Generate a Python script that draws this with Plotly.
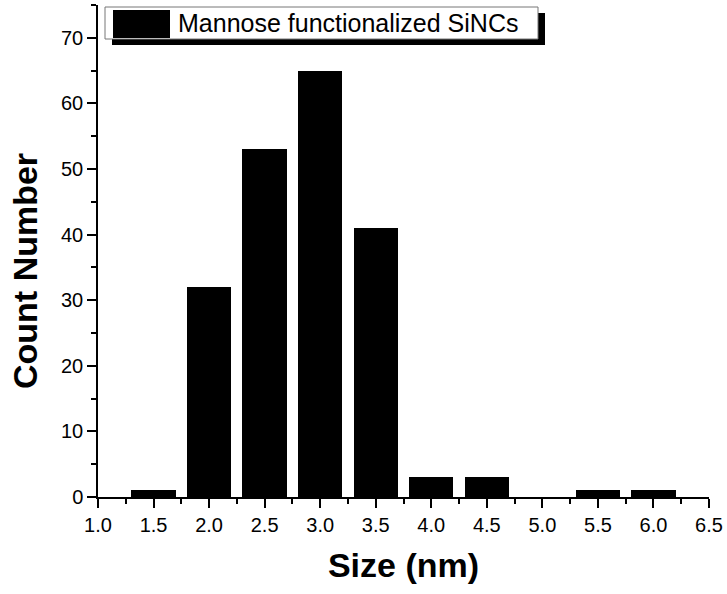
import plotly.graph_objects as go

# Histogram of nanocrystal sizes
sizes = [1.5, 2.0, 2.5, 3.0, 3.5, 4.0, 4.5, 5.0, 5.5, 6.0]
counts = [1, 32, 53, 65, 41, 3, 3, 0, 1, 1]
series_name = "Mannose functionalized SiNCs"
x_ticks = [1.0, 1.5, 2.0, 2.5, 3.0, 3.5, 4.0, 4.5, 5.0, 5.5, 6.0, 6.5]
y_ticks = [0, 10, 20, 30, 40, 50, 60, 70]

FONT = "Arial, Liberation Sans, sans-serif"

fig = go.Figure()
fig.add_trace(go.Bar(
    x=sizes, y=counts, width=0.4, name=series_name,
    marker=dict(color="black", line=dict(width=0)),
    showlegend=False,
))

fig.update_layout(
    width=727, height=594,
    margin=dict(l=98, r=18, t=5, b=97),
    paper_bgcolor="white", plot_bgcolor="white",
    font=dict(family=FONT, color="black"),
    bargap=0,
)

fig.update_xaxes(
    range=[1.0, 6.5], tickvals=x_ticks, ticktext=[f"{v:.1f}" for v in x_ticks],
    ticks="outside", ticklen=9, tickwidth=1.5, tickcolor="black",
    showline=True, linecolor="black", linewidth=1.5, showgrid=False, zeroline=False,
    tickfont=dict(size=20, family=FONT),
    minor=dict(ticks="outside", ticklen=5, tickwidth=1.5, tickcolor="black", dtick=0.25, tick0=1.0),
    title=dict(text="<b>Size (nm)</b>", font=dict(size=34, family=FONT), standoff=18),
)
fig.update_yaxes(
    range=[0, 75], tickvals=y_ticks,
    ticks="outside", ticklen=9, tickwidth=1.5, tickcolor="black",
    showline=True, linecolor="black", linewidth=1.5, showgrid=False, zeroline=False,
    tickfont=dict(size=20, family=FONT),
    minor=dict(ticks="outside", ticklen=5, tickwidth=1.5, tickcolor="black", dtick=5, tick0=0),
)

# Legend box with drop shadow, drawn in pixel-like paper coordinates
W, H = 727, 594
L, R, T, B = 98, 18, 5, 97
pw, ph = W - L - R, H - T - B


def px(x):
    return (x - L) / pw


def py(y):
    return 1 - (y - T) / ph


# y-axis title, placed slightly below the plot's vertical centre
fig.add_annotation(
    xref="paper", yref="paper", x=px(25), y=py(271), xanchor="center", yanchor="middle",
    text="<b>Count Number</b>", textangle=-90, showarrow=False,
    font=dict(size=34, family=FONT, color="black"),
)

shapes = [
    dict(type="rect", xref="paper", yref="paper",
         x0=px(112), x1=px(545), y0=py(45), y1=py(13),
         fillcolor="black", line=dict(width=0), layer="above"),
    dict(type="rect", xref="paper", yref="paper",
         x0=px(105), x1=px(538), y0=py(39), y1=py(7),
         fillcolor="white", line=dict(color="#777", width=1), layer="above"),
    dict(type="rect", xref="paper", yref="paper",
         x0=px(113), x1=px(170), y0=py(38), y1=py(10),
         fillcolor="black", line=dict(width=0), layer="above"),
]
fig.update_layout(shapes=shapes)
fig.add_annotation(
    xref="paper", yref="paper", x=px(176), y=py(23), xanchor="left", yanchor="middle",
    text=series_name, showarrow=False, font=dict(size=25, family=FONT, color="black"),
)

fig.write_html("out.html")
